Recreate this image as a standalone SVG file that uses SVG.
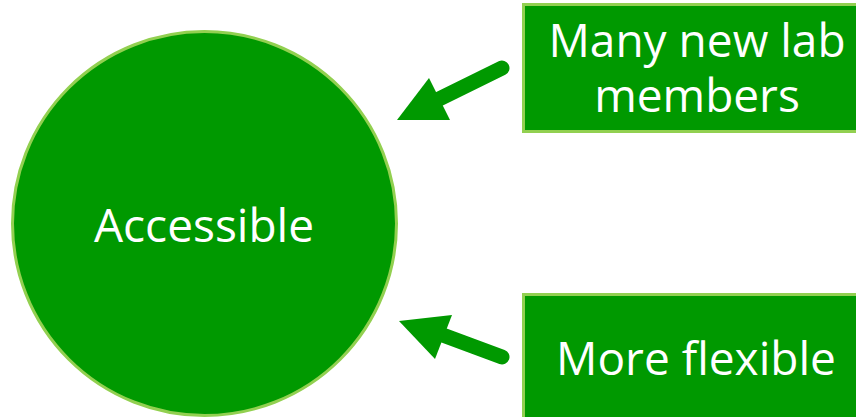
<svg xmlns="http://www.w3.org/2000/svg" width="856" height="417" viewBox="0 0 856 417">
<style>
.shape{fill:#009900;stroke:#92D050;stroke-width:3}
.lbl{font-family:"Open Sans","DejaVu Sans",sans-serif;font-size:46px;fill:#ffffff;text-anchor:middle}
.shaft{stroke:#009900;stroke-width:15;stroke-linecap:round;fill:none}
.head{fill:#009900}
</style>
<rect width="856" height="417" fill="#ffffff"/>
<g id="node-accessible">
<circle class="shape" cx="204.5" cy="223.5" r="192"/>
<text class="lbl" x="204" y="242">Accessible</text>
</g>
<g id="node-members">
<rect class="shape" x="523.5" y="4.5" width="350" height="127"/>
<text class="lbl" x="697" y="57">Many new lab</text>
<text class="lbl" x="697" y="112">members</text>
</g>
<g id="node-flexible">
<rect class="shape" x="523.5" y="294.5" width="350" height="140"/>
<text class="lbl" x="696" y="375">More flexible</text>
</g>
<g id="connectors">
<line class="shaft" x1="502" y1="68" x2="435" y2="101"/>
<polygon class="head" points="397,120 429,78 450,120"/>
<line class="shaft" x1="502" y1="357" x2="440" y2="334"/>
<polygon class="head" points="399,321 452,315 435,359"/>
</g>
</svg>
